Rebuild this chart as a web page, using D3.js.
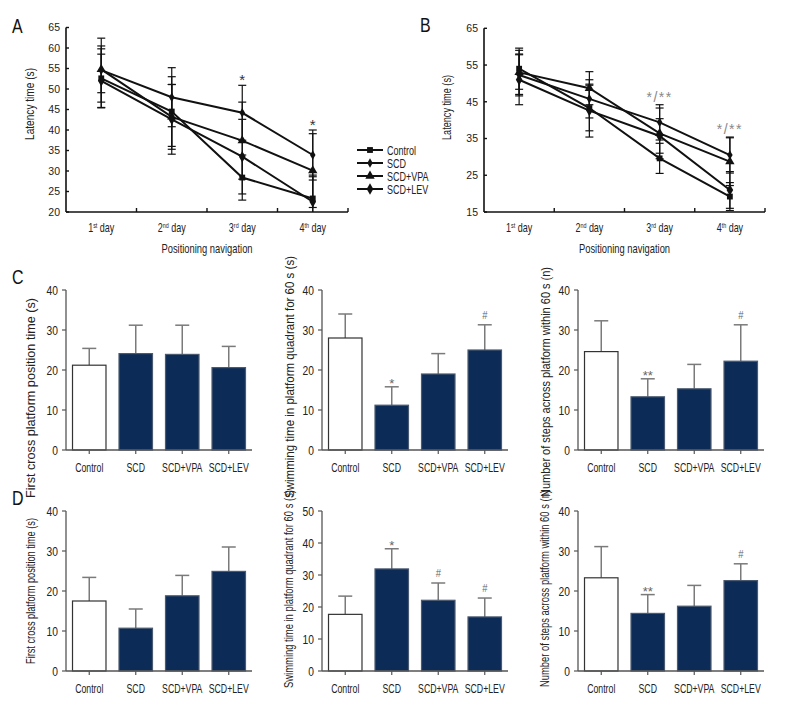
<!DOCTYPE html>
<html><head><meta charset="utf-8">
<script src="https://d3js.org/d3.v7.min.js"></script>
<style>
body{margin:0;background:#fff;}
text{font-family:"Liberation Sans",Arial,sans-serif;}
</style></head>
<body><svg id="c" width="792" height="720"></svg>
<script>
// ---------- data ----------
const days = ["1st","2nd","3rd","4th"];
const groups = ["Control","SCD","SCD+VPA","SCD+LEV"];
const yTicksA = [20,25,30,35,40,45,50,55,60,65];
const yTicksB = [15,25,35,45,55,65];
// Panel A means / SD
const aControl = [52.6, 44.5, 28.4, 23.3];
const aSCD     = [54.6, 48.0, 44.2, 33.9];
const aVPA     = [54.8, 43.2, 37.4, 30.1];
const aLEV     = [52.0, 42.6, 33.5, 22.5];
const aControlSD = [7.2, 8.5, 5.5, 5.7];
const aSCDSD     = [7.8, 7.2, 6.7, 6.1];
const aVPASD     = [5.7, 7.9, 9.4, 9.0];
const aLEVSD     = [6.5, 8.5, 9.1, 6.1];
const aMarks = ["","","*","*"];
// Panel B means / SD
const bControl = [54.0, 43.3, 29.6, 19.2];
const bSCD     = [52.3, 45.8, 39.4, 30.5];
const bVPA     = [53.0, 48.7, 36.4, 28.7];
const bLEV     = [51.0, 42.6, 35.7, 21.0];
const bControlSD = [5.6, 6.2, 4.1, 3.8];
const bSCDSD     = [5.7, 5.2, 4.8, 4.9];
const bVPASD     = [6.0, 4.5, 6.9, 6.5];
const bLEVSD     = [6.8, 7.2, 4.7, 5.0];
const bMarks = ["","","*/**","*/**"];
// Bar panels (C row, D row)
const c1Vals = [21.2, 24.1, 23.9, 20.6], c1SD = [4.2, 7.1, 7.3, 5.3], c1Marks = ["","","",""];
const c2Vals = [28.0, 11.2, 19.0, 25.0], c2SD = [6.0, 4.6, 5.1, 6.3], c2Marks = ["","*","","#"];
const c3Vals = [24.6, 13.3, 15.3, 22.2], c3SD = [7.7, 4.5, 6.1, 9.1], c3Marks = ["","**","","#"];
const d1Vals = [17.5, 10.7, 18.8, 24.9], d1SD = [5.9, 4.8, 5.1, 6.1], d1Marks = ["","","",""];
const d2Vals = [17.7, 31.9, 22.1, 16.9], d2SD = [5.7, 6.3, 5.4, 5.9], d2Marks = ["","*","#","#"];
const d3Vals = [23.3, 14.4, 16.2, 22.6], d3SD = [7.8, 4.7, 5.2, 4.2], d3Marks = ["","**","","#"];
const ticks40 = [0,10,20,30,40], ticks50 = [0,10,20,30,40,50];
const lblC1 = "First cross platform position time (s)";
const lblC2 = "Swimming time in platform quadrant for 60 s (s)";
const lblC3 = "Number of steps across platform within 60 s (n)";

// ---------- drawing ----------
const svg = d3.select("#c");
svg.append("rect").attr("width",792).attr("height",720).attr("fill","#fff");
const NAVY = "#0c2b57";
const symbols = {
  "Control": d3.symbol().type(d3.symbolSquare).size(34),
  "SCD": d3.symbol().type(d3.symbolDiamond).size(26),
  "SCD+VPA": d3.symbol().type(d3.symbolTriangle).size(38),
  "SCD+LEV": d3.symbol().type(d3.symbolDiamond).size(38)
};

// condensed text helper: anchor at (x,y), horizontal squeeze sq
function ctext(g, x, y, str, size, anchor, fill, sq){
  return g.append("text").attr("transform",`translate(${x},${y}) scale(${sq||0.72},1)`)
    .attr("text-anchor",anchor||"start").attr("font-size",size).attr("fill",fill||"#222").text(str);
}

function rotLabel(g, text, xc, yTop, yBot, size){
  g.append("text").attr("transform",`translate(${xc+size*0.36},${(yTop+yBot)/2}) rotate(-90)`)
   .attr("text-anchor","middle").attr("font-size",size).attr("fill","#222")
   .attr("textLength", yBot-yTop).attr("lengthAdjust","spacingAndGlyphs").text(text);
}

function dayLabel(g, x, y, d){
  const t = g.append("text").attr("transform",`translate(${x},${y}) scale(0.72,1)`).attr("text-anchor","middle").attr("font-size",12.5).attr("fill","#222");
  t.append("tspan").text(d.slice(0,1));
  t.append("tspan").attr("font-size",7.5).attr("dy",-4.5).text(d.slice(1));
  t.append("tspan").attr("dy",4.5).text(" day");
}

function linePanel(o){
  const g = svg.append("g");
  const x = d3.scaleBand().domain(days).range([o.x0,o.x1]);
  const y = d3.scaleLinear().domain(o.dom).range([o.yb,o.yt]);
  g.append("line").attr("x1",o.x0).attr("x2",o.x0).attr("y1",o.yt).attr("y2",o.yb).attr("stroke","#111").attr("stroke-width",1.6);
  g.append("line").attr("x1",o.x0).attr("x2",o.x1).attr("y1",o.yb).attr("y2",o.yb).attr("stroke","#111").attr("stroke-width",1.6);
  o.ticks.forEach(t=>{
    g.append("line").attr("x1",o.x0).attr("x2",o.x0+3).attr("y1",y(t)).attr("y2",y(t)).attr("stroke","#111").attr("stroke-width",1.4);
    ctext(g, o.x0-6, y(t)+3.8, t, 10.5, "end", "#222", 1);
  });
  days.forEach(d=>{
    const xe = x(d)+x.bandwidth();
    g.append("line").attr("x1",xe).attr("x2",xe).attr("y1",o.yb).attr("y2",o.yb-4).attr("stroke","#111").attr("stroke-width",1.4);
    dayLabel(g, x(d)+x.bandwidth()/2, o.yb+20, d);
  });
  ctext(g,(o.x0+o.x1)/2,o.yb+41,"Positioning navigation",12.5,"middle","#222",0.75);
  rotLabel(g,"Latency time (s)",o.ylx,o.ylt,o.ylb,12);
  const cx = d => x(d)+x.bandwidth()/2;
  const clip = v => Math.max(o.dom[0], v);
  o.series.forEach(s=>{
    s.v.forEach((v,i)=>{
      const X = cx(days[i]);
      const hi = v+s.sd[i], lo = clip(v-s.sd[i]);
      g.append("line").attr("x1",X).attr("x2",X).attr("y1",y(hi)).attr("y2",y(lo)).attr("stroke","#111").attr("stroke-width",1.2);
      g.append("line").attr("x1",X-4).attr("x2",X+4).attr("y1",y(hi)).attr("y2",y(hi)).attr("stroke","#111").attr("stroke-width",1.2);
      if (v-s.sd[i] > o.dom[0]) g.append("line").attr("x1",X-4).attr("x2",X+4).attr("y1",y(lo)).attr("y2",y(lo)).attr("stroke","#111").attr("stroke-width",1.2);
    });
  });
  const line = d3.line().x((v,i)=>cx(days[i])).y(v=>y(v));
  o.series.forEach(s=>{
    g.append("path").attr("d",line(s.v)).attr("fill","none").attr("stroke","#111").attr("stroke-width",2);
    s.v.forEach((v,i)=>{
      g.append("path").attr("d",symbols[s.name]()).attr("transform",`translate(${cx(days[i])},${y(v)})`).attr("fill","#111");
    });
  });
  o.marks.forEach((m,i)=>{
    if(!m) return;
    const top = d3.max(o.series, s=>s.v[i]+s.sd[i]);
    ctext(g, cx(days[i]), y(top)+o.markDy, m, o.markSize, "middle", o.markColor, 1).attr("letter-spacing", o.markLS);
  });
}

linePanel({x0:66,x1:348,yt:27.5,yb:212,dom:[20,65],ticks:yTicksA,ylx:30,ylt:68,ylb:140,marks:aMarks,markColor:"#333",markSize:15,markDy:0,markLS:0,
  series:[{name:"Control",v:aControl,sd:aControlSD},{name:"SCD",v:aSCD,sd:aSCDSD},{name:"SCD+VPA",v:aVPA,sd:aVPASD},{name:"SCD+LEV",v:aLEV,sd:aLEVSD}]});
linePanel({x0:484,x1:765,yt:28.3,yb:212,dom:[15,65],ticks:yTicksB,ylx:447,ylt:75,ylb:140,marks:bMarks,markColor:"#888",markSize:14,markDy:-3,markLS:1.5,
  series:[{name:"Control",v:bControl,sd:bControlSD},{name:"SCD",v:bSCD,sd:bSCDSD},{name:"SCD+VPA",v:bVPA,sd:bVPASD},{name:"SCD+LEV",v:bLEV,sd:bLEVSD}]});

groups.forEach((gname,i)=>{
  const ly = 150 + i*13;
  svg.append("line").attr("x1",357).attr("x2",383).attr("y1",ly).attr("y2",ly).attr("stroke","#111").attr("stroke-width",2);
  svg.append("path").attr("d",symbols[gname]()).attr("transform",`translate(370,${ly})`).attr("fill","#111");
  ctext(svg, 387, ly+4.5, gname, 12.5, "start", "#222", 0.72);
});

function barPanel(o){
  const g = svg.append("g");
  const x = d3.scaleBand().domain(groups).range([o.x0,o.x0+186]).paddingInner(0.28).paddingOuter(0.14);
  const y = d3.scaleLinear().domain([0,o.max]).range([o.yb,o.yb-160]);
  o.v.forEach((v,i)=>{
    const gname = groups[i];
    const X = x(gname)+x.bandwidth()/2;
    const top = y(v+o.sd[i]);
    g.append("line").attr("x1",X).attr("x2",X).attr("y1",y(v)).attr("y2",top).attr("stroke","#7a7a7a").attr("stroke-width",1.5);
    g.append("line").attr("x1",X-7).attr("x2",X+7).attr("y1",top).attr("y2",top).attr("stroke","#7a7a7a").attr("stroke-width",1.5);
    g.append("rect").attr("x",x(gname)).attr("y",y(v)).attr("width",x.bandwidth()).attr("height",o.yb-y(v))
     .attr("fill", i===0?"#fff":NAVY).attr("stroke", i===0?"#333":"#4a5a70").attr("stroke-width",1.2);
    const m = o.marks[i];
    if(m === "#") ctext(g, X, top-6, m, 10.5, "middle", "#666", 0.9);
    else if(m) ctext(g, X, top+1, m, 13, "middle", "#666", 1);
    g.append("line").attr("x1",X).attr("x2",X).attr("y1",o.yb).attr("y2",o.yb+4).attr("stroke","#555").attr("stroke-width",1.2);
    ctext(g, X, o.yb+22, gname, 12.5, "middle", "#222", 0.7);
  });
  g.append("line").attr("x1",o.x0).attr("x2",o.x0).attr("y1",o.yb-160).attr("y2",o.yb).attr("stroke","#555").attr("stroke-width",1.3);
  g.append("line").attr("x1",o.x0).attr("x2",o.x0+186).attr("y1",o.yb).attr("y2",o.yb).attr("stroke","#555").attr("stroke-width",1.3);
  o.ticks.forEach(t=>{
    g.append("line").attr("x1",o.x0-4).attr("x2",o.x0).attr("y1",y(t)).attr("y2",y(t)).attr("stroke","#555").attr("stroke-width",1.2);
    ctext(g, o.x0-8, y(t)+4.5, t, 12.5, "end", "#222", 0.82);
  });
  rotLabel(g,o.label,o.ylx,o.ylt,o.ylb,12);
}

barPanel({x0:66,yb:450,max:40,ticks:ticks40,v:c1Vals,sd:c1SD,marks:c1Marks,label:lblC1,ylx:31,ylt:298,ylb:498});
barPanel({x0:322,yb:450,max:40,ticks:ticks40,v:c2Vals,sd:c2SD,marks:c2Marks,label:lblC2,ylx:290,ylt:256,ylb:498});
barPanel({x0:578,yb:450,max:40,ticks:ticks40,v:c3Vals,sd:c3SD,marks:c3Marks,label:lblC3,ylx:546,ylt:267,ylb:497});
barPanel({x0:66,yb:671,max:40,ticks:ticks40,v:d1Vals,sd:d1SD,marks:d1Marks,label:lblC1,ylx:31,ylt:518,ylb:664});
barPanel({x0:322,yb:671,max:50,ticks:ticks50,v:d2Vals,sd:d2SD,marks:d2Marks,label:lblC2,ylx:289,ylt:490,ylb:688});
barPanel({x0:578,yb:671,max:40,ticks:ticks40,v:d3Vals,sd:d3SD,marks:d3Marks,label:lblC3,ylx:545,ylt:490,ylb:687});

[["A",12,33],["B",420,32],["C",12,284],["D",12,505]].forEach(([t,x,y])=>{
  ctext(svg, x, y, t, 21, "start", "#111", 0.76);
});
</script></body></html>
